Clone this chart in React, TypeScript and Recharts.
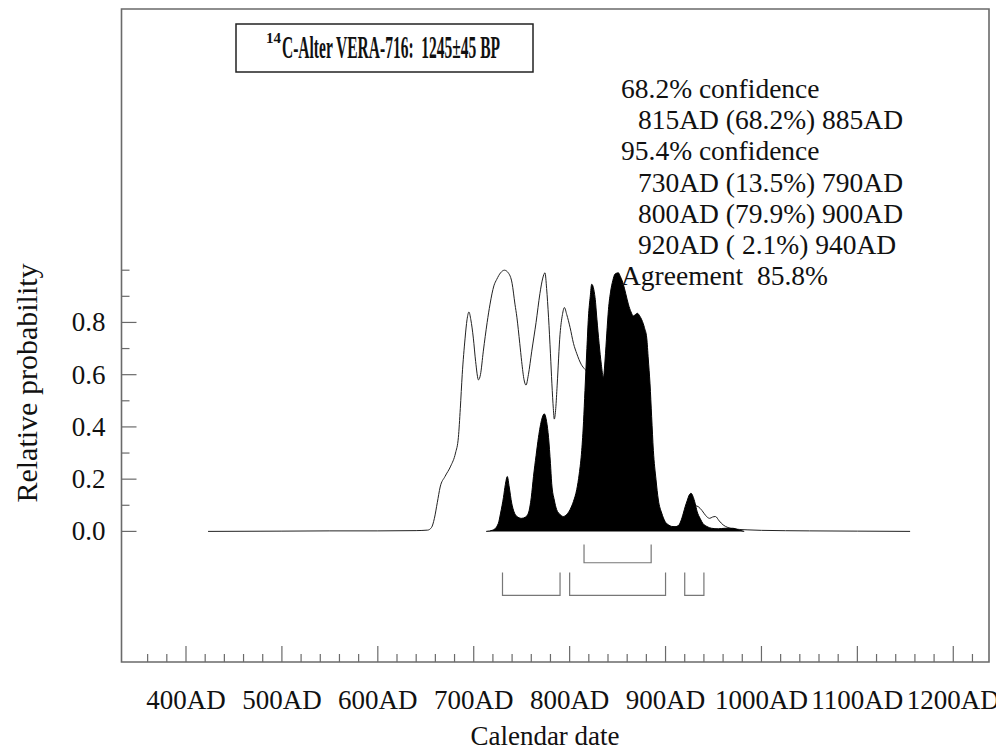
import { ComposedChart, Area, Line, XAxis, YAxis, ReferenceArea } from 'recharts'

const FONT = '"Liberation Serif", "Times New Roman", serif'
const AXIS = '#6a6a6a'

// unmodelled calibrated distribution (drawn as outline)
const calYears = [
  423, 500, 550, 600, 640, 652, 656, 659, 662, 665, 670, 676, 681, 684, 686, 688, 691, 693, 695, 697,
  699.6, 702, 705, 707, 710, 714, 717, 721, 724, 728, 732, 736, 740, 743, 745, 748, 750, 752.5, 754.5,
  757, 760.5, 765, 769, 772, 774.3, 776, 778, 780, 781.5, 783, 784, 785.5, 787, 790, 792.5, 794.5, 797,
  800.5, 804, 807.5, 812, 816, 822, 828, 835, 850, 865, 878, 888, 895, 905, 913, 918, 922, 926, 930,
  934, 938, 942, 946, 949, 952, 956, 960, 965, 970, 985, 1000, 1050, 1100, 1155,
]
const calProb = [
  0, 0.001, 0.002, 0.002, 0.003, 0.005, 0.015, 0.05, 0.11, 0.17, 0.21, 0.25, 0.3, 0.36, 0.47, 0.6, 0.74,
  0.81, 0.84, 0.81, 0.74, 0.65, 0.58, 0.6, 0.69, 0.8, 0.87, 0.94, 0.965, 0.99, 1.0, 0.99, 0.95, 0.87,
  0.82, 0.72, 0.65, 0.58, 0.56, 0.6, 0.69, 0.8, 0.91, 0.97, 0.99, 0.93, 0.82, 0.68, 0.565, 0.47, 0.43,
  0.47, 0.56, 0.755, 0.83, 0.857, 0.83, 0.78, 0.72, 0.68, 0.64, 0.62, 0.6, 0.56, 0.45, 0.35, 0.25, 0.15,
  0.06, 0.025, 0.015, 0.02, 0.05, 0.09, 0.11, 0.1, 0.095, 0.08, 0.06, 0.05, 0.055, 0.057, 0.04, 0.025,
  0.015, 0.01, 0.006, 0.004, 0.002, 0.001, 0,
]

// modelled distribution (filled black)
const postYears = [
  713, 720, 725.6, 728, 731, 733, 735, 737, 739.6, 742, 745, 750, 754, 757, 760, 762.3, 765, 767.5, 771,
  773.5, 776, 778, 780, 781.3, 784, 786.5, 790, 793.4, 797, 800.4, 804, 807.4, 810, 812.6, 814.5, 816,
  818, 819.6, 821.5, 823, 826.5, 828.5, 830.7, 833, 835.2, 837, 838.7, 840.5, 842.8, 845, 847.3, 850.8,
  853, 856, 858.5, 861.2, 864, 866.4, 868.5, 870.6, 873, 875.2, 878, 880.4, 882, 883.8, 885.5, 887.3, 890,
  892.5, 896, 899.5, 903, 906.4, 910, 913.4, 916, 918.6, 920.5, 922.8, 924.5, 926.6, 928.5, 930.8, 933,
  936, 939, 943, 948, 955, 962, 970, 976, 982,
]
const postProb = [
  0, 0.005, 0.03, 0.07, 0.13, 0.18, 0.21, 0.17, 0.108, 0.075, 0.057, 0.05, 0.055, 0.07, 0.13, 0.21, 0.29,
  0.36, 0.43, 0.45, 0.42, 0.36, 0.26, 0.184, 0.12, 0.083, 0.065, 0.057, 0.065, 0.083, 0.115, 0.16, 0.22,
  0.31, 0.42, 0.54, 0.7, 0.82, 0.9, 0.946, 0.895, 0.81, 0.72, 0.64, 0.59, 0.66, 0.756, 0.85, 0.92, 0.96,
  0.985, 0.99, 0.975, 0.946, 0.91, 0.87, 0.84, 0.825, 0.83, 0.835, 0.825, 0.81, 0.78, 0.74, 0.66, 0.565,
  0.44, 0.31, 0.2, 0.12, 0.07, 0.038, 0.025, 0.019, 0.018, 0.022, 0.04, 0.07, 0.095, 0.12, 0.138, 0.146,
  0.135, 0.108, 0.075, 0.05, 0.03, 0.019, 0.012, 0.01, 0.012, 0.012, 0.006, 0,
]

const xTicks = [
  360, 380, 400, 420, 440, 460, 480, 500, 520, 540, 560, 580, 600, 620, 640, 660, 680, 700, 720, 740,
  760, 780, 800, 820, 840, 860, 880, 900, 920, 940, 960, 980, 1000, 1020, 1040, 1060, 1080, 1100, 1120,
  1140, 1160, 1180, 1200, 1220,
]
const yTicks = [0, 0.1, 0.2, 0.3, 0.4, 0.5, 0.6, 0.7, 0.8, 0.9, 1.0]
const yLabels = [0, 0.2, 0.4, 0.6, 0.8]

const range68From = [815]
const range68To = [885]
const range95From = [730, 800, 920]
const range95To = [790, 900, 940]

const title = 'C-Alter VERA-716:  1245±45 BP'
const infoLines = [
  '68.2% confidence',
  '815AD (68.2%) 885AD',
  '95.4% confidence',
  '730AD (13.5%) 790AD',
  '800AD (79.9%) 900AD',
  '920AD ( 2.1%) 940AD',
  'Agreement  85.8%',
]
const infoIndent = [false, true, false, true, true, true, false]

const X_DOMAIN = [332.75, 1237.25]
const Y_DOMAIN = [-0.5, 2]

const calData = calYears.map((x, i) => ({ x, y: calProb[i] }))
const postData = postYears.map((x, i) => ({ x, y: postProb[i] }))

// bracket shape for a range, drawn in data units below the zero line
function bracket(a: number, b: number, top: number, bottom: number) {
  return [
    { x: a, y: top },
    { x: a, y: bottom },
    { x: b, y: bottom },
    { x: b, y: top },
  ]
}
const brackets68 = range68From.map((a, i) => bracket(a, range68To[i], -0.05, -0.12))
const brackets95 = range95From.map((a, i) => bracket(a, range95To[i], -0.157, -0.245))

function XTick({ x, y, payload }: any) {
  const v = payload.value
  const major = v % 100 === 0
  return (
    <g>
      <line x1={x} y1={y} x2={x} y2={y - (major ? 16 : 8)} stroke={AXIS} strokeWidth={1.2} />
      {major && (
        <text x={x} y={y + 47} textAnchor="middle" fontFamily={FONT} fontSize={27} fill="#111">
          {v}AD
        </text>
      )}
    </g>
  )
}

function YTick({ x, y, payload }: any) {
  const v = payload.value
  const major = yLabels.includes(v)
  return (
    <g>
      <line x1={x} y1={y} x2={x + (major ? 15 : 8)} y2={y} stroke={AXIS} strokeWidth={1.2} />
      {major && (
        <text x={x - 16} y={y + 9} textAnchor="end" fontFamily={FONT} fontSize={27} fill="#111">
          {v.toFixed(1)}
        </text>
      )}
    </g>
  )
}

export default function App() {
  return (
    <div style={{ position: 'relative', width: 996, height: 745 }}>
      <ComposedChart width={996} height={745} margin={{ top: 1, right: 15, bottom: 0, left: 0 }}>
        <XAxis
          type="number"
          dataKey="x"
          domain={X_DOMAIN}
          allowDataOverflow
          ticks={xTicks}
          interval={0}
          tickSize={0}
          tickMargin={0}
          tickLine={false}
          axisLine={false}
          tick={<XTick />}
          height={91}
        />
        <YAxis
          type="number"
          domain={Y_DOMAIN}
          allowDataOverflow
          ticks={yTicks}
          interval={0}
          tickSize={0}
          tickMargin={0}
          tickLine={false}
          axisLine={false}
          tick={<YTick />}
          width={113.5}
        />
        <ReferenceArea
          x1={X_DOMAIN[0]}
          x2={X_DOMAIN[1]}
          y1={Y_DOMAIN[0]}
          y2={Y_DOMAIN[1]}
          fill="none"
          stroke={AXIS}
          strokeWidth={1.6}
          fillOpacity={0}
        />
        <Area
          data={calData}
          dataKey="y"
          type="monotone"
          baseValue={0}
          stroke="#222"
          strokeWidth={1}
          fill="#fff"
          fillOpacity={0}
          dot={false}
          isAnimationActive={false}
        />
        <Area
          data={postData}
          dataKey="y"
          type="monotone"
          baseValue={0}
          stroke="#000"
          strokeWidth={1}
          fill="#000"
          fillOpacity={1}
          dot={false}
          isAnimationActive={false}
        />
        {brackets68.map((d, i) => (
          <Line key={`b68-${i}`} data={d} dataKey="y" type="linear" stroke="#777" strokeWidth={1.2} dot={false} isAnimationActive={false} />
        ))}
        {brackets95.map((d, i) => (
          <Line key={`b95-${i}`} data={d} dataKey="y" type="linear" stroke="#777" strokeWidth={1.2} dot={false} isAnimationActive={false} />
        ))}
      </ComposedChart>
      <svg
        width={996}
        height={745}
        style={{ position: 'absolute', left: 0, top: 0, pointerEvents: 'none' }}
        fontFamily={FONT}
      >
        <rect x={228} y={16} width={297} height={48} fill="#fff" stroke="#222" strokeWidth={1.5} />
        <text x={258} y={35} fontWeight="bold" fontSize={15} fill="#111">
          14
        </text>
        <text
          x={274}
          y={50}
          xmlSpace="preserve"
          textLength={218}
          lengthAdjust="spacingAndGlyphs"
          fontWeight="bold"
          fontSize={32}
          fill="#111"
        >
          {title}
        </text>
        {infoLines.map((line, i) => (
          <text
            key={i}
            x={infoIndent[i] ? 630 : 613}
            y={90 + i * 31.2}
            xmlSpace="preserve"
            fontSize={27.5}
            fill="#111"
          >
            {line}
          </text>
        ))}
        <text x={18} y={375} transform="rotate(-90 18 375)" textAnchor="middle" dominantBaseline="central" fontSize={30} fill="#111">
          Relative probability
        </text>
        <text x={537} y={737} textAnchor="middle" fontSize={27} fill="#111">
          Calendar date
        </text>
      </svg>
    </div>
  )
}
